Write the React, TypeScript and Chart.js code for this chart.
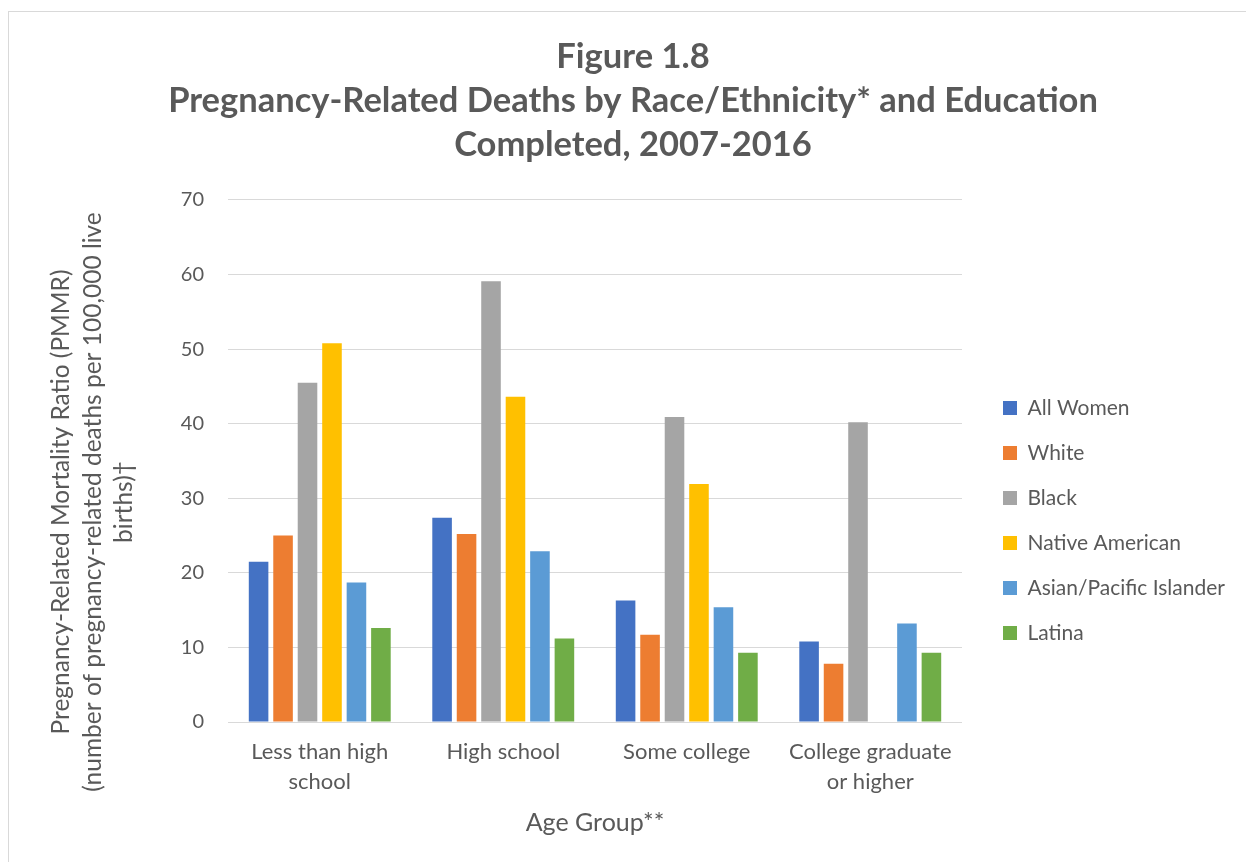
import React, { useEffect, useRef } from 'react';
import { Chart, registerables } from 'chart.js';

Chart.register(...registerables);

const titleLines = [
  'Figure 1.8',
  'Pregnancy-Related Deaths by Race/Ethnicity* and Education',
  'Completed, 2007-2016',
];
const yTitleLines = [
  'Pregnancy-Related Mortality Ratio (PMMR)',
  '(number of pregnancy-related deaths per 100,000 live',
  'births)†',
];
const xTitle = 'Age Group**';

const categories = [
  ['Less than high', 'school'],
  ['High school'],
  ['Some college'],
  ['College graduate', 'or higher'],
];

const seriesNames = ['All Women', 'White', 'Black', 'Native American', 'Asian/Pacific Islander', 'Latina'];
const seriesColors = ['#4472C4', '#ED7D31', '#A5A5A5', '#FFC000', '#5B9BD5', '#70AD47'];

const allWomen = [21.5, 27.4, 16.3, 10.8];
const white = [25.0, 25.2, 11.7, 7.8];
const black = [45.5, 59.1, 40.9, 40.2];
const nativeAmerican = [50.8, 43.6, 31.9, null];
const asianPacificIslander = [18.7, 22.9, 15.4, 13.2];
const latina = [12.6, 11.2, 9.3, 9.3];

const yMin = 0;
const yMax = 70;
const yStep = 10;

const TEXT = '#595959';
const GRID = '#D9D9D9';
const FONT = 'Lato';

const W = 1246;
const H = 862;
const LEGEND_FONT = 21;
const LEGEND_BOX = 14;
const LEGEND_PAD = 24;
const CHART_LEFT = 228;
const LEGEND_LEFT = 979;
const RIGHT_GAP = 17;

const yTitlePlugin = {
  id: 'yTitleLines',
  afterDraw(chart: any) {
    const { ctx } = chart;
    ctx.save();
    ctx.font = `24.5px ${FONT}`;
    ctx.fillStyle = TEXT;
    ctx.translate(93, 502);
    ctx.rotate(-Math.PI / 2);
    ctx.textAlign = 'center';
    ctx.textBaseline = 'middle';
    yTitleLines.forEach((line, i) => {
      ctx.fillText(line, 0, (i - 1) * 31.5);
    });
    ctx.restore();
  },
};

export default function App() {
  const canvasRef = useRef<HTMLCanvasElement | null>(null);

  useEffect(() => {
    if (!canvasRef.current) return;
    // measure legend width so the plot area lands where the reference has it
    const mctx = document.createElement('canvas').getContext('2d') as CanvasRenderingContext2D;
    mctx.font = `${LEGEND_FONT}px ${FONT}`;
    const maxText = Math.max(...seriesNames.map((n) => mctx.measureText(n).width));
    const legendW = LEGEND_PAD + LEGEND_BOX + LEGEND_FONT / 2 + maxText + 10;
    const padRight = Math.max(0, W - LEGEND_LEFT - legendW);
    const padLeft = padRight + 20;
    const yAxisW = CHART_LEFT - padLeft;

    const seriesData = [allWomen, white, black, nativeAmerican, asianPacificIslander, latina];
    const chart = new Chart(canvasRef.current, {
      type: 'bar',
      data: {
        labels: categories as any,
        datasets: seriesNames.map((name, i) => ({
          label: name,
          data: seriesData[i] as any,
          backgroundColor: seriesColors[i],
          borderWidth: 0,
          categoryPercentage: 0.8,
          barPercentage: 0.8,
        })),
      },
      options: {
        responsive: false,
        animation: false,
        events: [],
        layout: { padding: { left: padLeft, right: padRight, top: 0, bottom: 10 } },
        plugins: {
          title: {
            display: true,
            text: titleLines,
            color: TEXT,
            font: { family: FONT, size: 34.5, weight: 'bold', lineHeight: 44 / 34.5 },
            padding: { top: 35, bottom: 33 },
          },
          legend: {
            display: true,
            position: 'right',
            align: 'start',
            maxWidth: 1000,
            title: {
              display: true,
              text: ' ',
              font: { size: 10, lineHeight: 1 },
              padding: { top: 363.5, bottom: 0 },
            },
            labels: {
              color: TEXT,
              font: { family: FONT, size: LEGEND_FONT },
              boxWidth: LEGEND_BOX,
              boxHeight: LEGEND_BOX,
              padding: LEGEND_PAD,
            },
          },
          tooltip: { enabled: false },
        },
        scales: {
          x: {
            grid: { display: false, drawTicks: false },
            border: { display: false },
            ticks: {
              color: TEXT,
              font: { family: FONT, size: 22, lineHeight: 30 / 22 },
              padding: 15,
              maxRotation: 0,
              autoSkip: false,
            },
            title: {
              display: true,
              text: xTitle,
              color: TEXT,
              font: { family: FONT, size: 25, lineHeight: 1.2 },
              padding: { top: 0, bottom: 14 },
            },
            afterFit: (s: any) => {
              s.height = 130;
            },
          },
          y: {
            min: yMin,
            max: yMax,
            grid: { color: GRID, lineWidth: 1, drawTicks: false },
            border: { display: false },
            ticks: {
              stepSize: yStep,
              color: TEXT,
              font: { family: FONT, size: 20 },
              padding: 24,
            },
            afterFit: (s: any) => {
              s.width = yAxisW;
            },
          },
          y2: {
            type: 'linear',
            position: 'right',
            display: true,
            grid: { display: false, drawTicks: false },
            border: { display: false },
            ticks: { display: false },
            afterFit: (s: any) => {
              s.width = RIGHT_GAP;
            },
          },
        },
      } as any,
      plugins: [yTitlePlugin],
    });
    return () => chart.destroy();
  }, []);

  return (
    <div style={{ position: 'absolute', left: 0, top: 0, width: W, height: H, background: '#fff', overflow: 'hidden' }}>
      <div
        style={{
          position: 'absolute',
          left: 8,
          top: 11,
          width: W - 8,
          height: H - 11,
          borderTop: '1px solid #D9D9D9',
          borderLeft: '1px solid #D9D9D9',
          boxSizing: 'border-box',
        }}
      />
      <canvas ref={canvasRef} width={W} height={H} style={{ position: 'absolute', left: 0, top: 0, display: 'block' }} />
    </div>
  );
}
